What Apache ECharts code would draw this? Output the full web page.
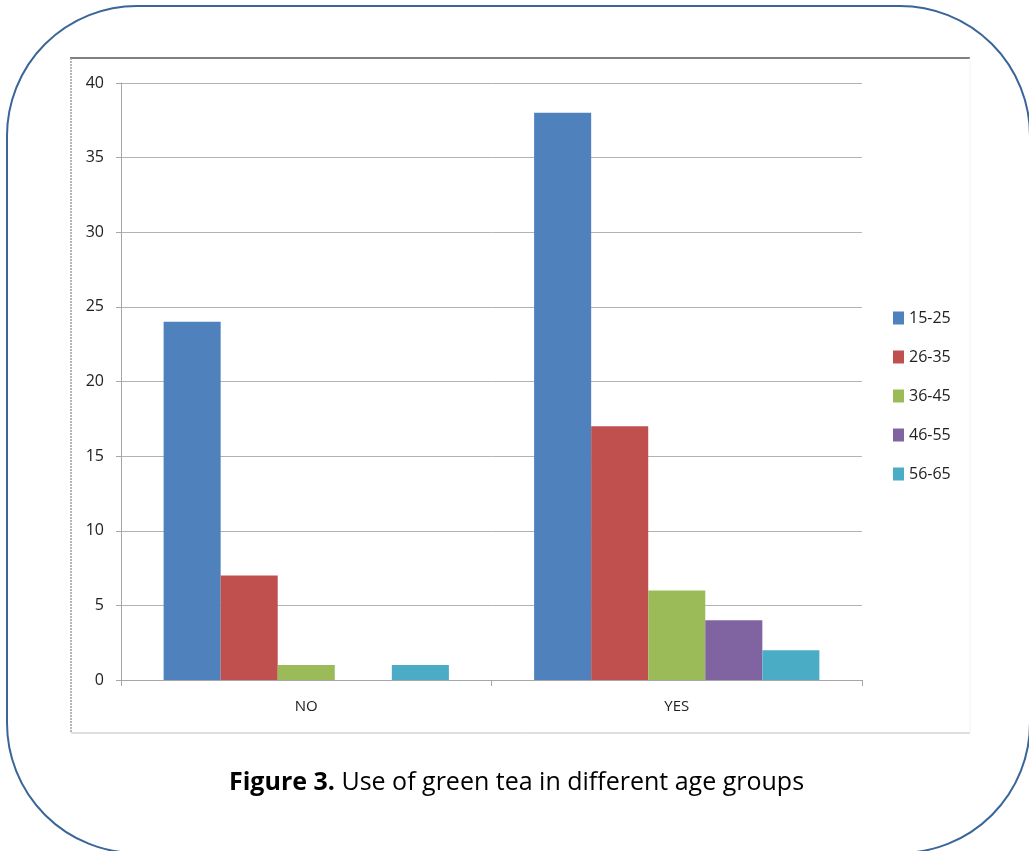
<!DOCTYPE html>
<html>
<head>
<meta charset="utf-8">
<script src="https://cdn.jsdelivr.net/npm/echarts@6/dist/echarts.min.js"></script>
<style>
  html, body { margin: 0; padding: 0; background: #fff; }
  #chart { width: 1029px; height: 851px; }
</style>
</head>
<body>
<div id="chart"></div>
<script>
var categories = ['NO', 'YES'];
var ageGroups = ['15-25', '26-35', '36-45', '46-55', '56-65'];
var g15_25 = [24, 38];
var g26_35 = [7, 17];
var g36_45 = [1, 6];
var g46_55 = [0, 4];
var g56_65 = [1, 2];
var yTicks = { min: 0, max: 40, interval: 5 };

var colors = ['#4F81BD', '#C0504D', '#9BBB59', '#8064A2', '#4BACC6'];
var seriesData = [g15_25, g26_35, g36_45, g46_55, g56_65];
var font = 'Open Sans';

var chart = echarts.init(document.getElementById('chart'));

var series = [];
for (var i = 0; i < ageGroups.length; i++) {
    series.push({
        name: ageGroups[i],
        type: 'bar',
        data: seriesData[i],
        barGap: 0,
        barCategoryGap: '23%',
        itemStyle: { color: colors[i] },
        animation: false
    });
}

var option = {
    backgroundColor: '#fff',
    animation: false,
    title: {
        text: '{b|Figure 3.} Use of green tea in different age groups',
        left: 224,
        top: 765,
        textStyle: {
            rich: {
                b: { fontWeight: 'bold', fontSize: 25, fontFamily: font, color: '#000' }
            },
            fontWeight: 'normal',
            fontSize: 25,
            fontFamily: font,
            color: '#000'
        }
    },
    legend: {
        orient: 'vertical',
        left: 888,
        top: 305,
        itemGap: 23,
        itemWidth: 11,
        itemHeight: 13,
        icon: 'rect',
        data: ageGroups,
        textStyle: { fontSize: 16, color: '#222', fontFamily: font }
    },
    grid: { left: 121, right: 167, top: 83, bottom: 171 },
    xAxis: {
        type: 'category',
        data: categories,
        axisLine: { lineStyle: { color: '#a6a6a6', width: 1 } },
        axisTick: { show: true, length: 6, lineStyle: { color: '#a6a6a6' } },
        axisLabel: { margin: 19, fontSize: 15, color: '#222', fontFamily: font }
    },
    yAxis: {
        type: 'value',
        min: yTicks.min,
        max: yTicks.max,
        interval: yTicks.interval,
        axisLine: { show: true, lineStyle: { color: '#a6a6a6', width: 1 } },
        axisTick: { show: true, length: 5, lineStyle: { color: '#a6a6a6' } },
        axisLabel: { margin: 17, fontSize: 16, color: '#222', fontFamily: font },
        splitLine: { lineStyle: { color: '#b3b3b3', width: 1 } }
    },
    graphic: [
        {
            type: 'rect',
            shape: { x: 7, y: 6, width: 1023, height: 847, r: 130 },
            style: { fill: 'none', stroke: '#3A6599', lineWidth: 2 },
            silent: true
        },
        {
            type: 'line',
            shape: { x1: 70, y1: 58, x2: 970, y2: 58 },
            style: { stroke: '#808080', lineWidth: 2 },
            silent: true
        },
        {
            type: 'line',
            shape: { x1: 71, y1: 58, x2: 71, y2: 733 },
            style: { stroke: '#a0a0a0', lineWidth: 1.5, lineDash: [2, 1] },
            silent: true
        },
        {
            type: 'line',
            shape: { x1: 71, y1: 733, x2: 970, y2: 733 },
            style: { stroke: '#bfbfbf', lineWidth: 1 },
            silent: true
        },
        {
            type: 'line',
            shape: { x1: 970, y1: 58, x2: 970, y2: 733 },
            style: { stroke: '#f2f2f2', lineWidth: 1 },
            silent: true
        }
    ],
    series: series
};

chart.setOption(option);
</script>
</body>
</html>
